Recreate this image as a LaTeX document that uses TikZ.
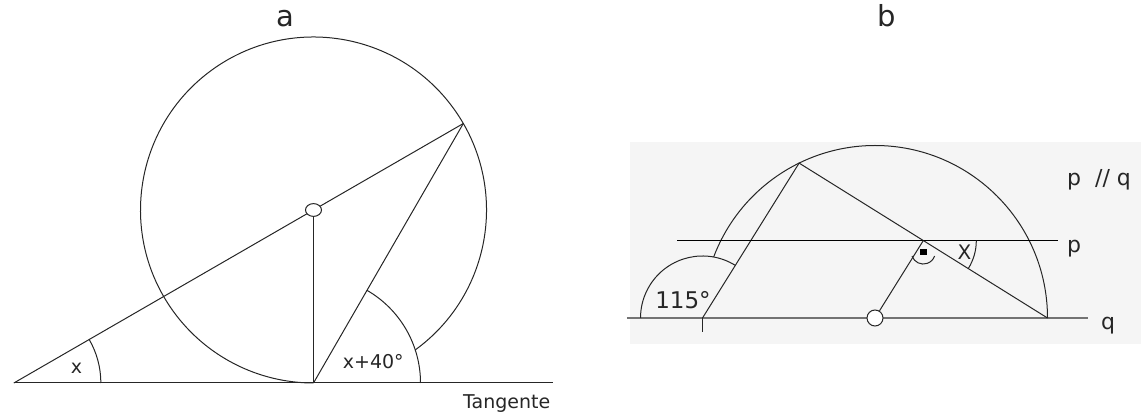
\documentclass[tikz,border=0pt]{standalone}
\usepackage{fontspec}
\newfontfamily\djsans{DejaVu Sans}
\newcommand\myfs[1]{\fontsize{#1}{#1}\selectfont\djsans}
\usetikzlibrary{calc}
\tikzset{
  geo/.style={line width=1pt, draw=black!85},
  pline/.style={line width=1.5pt, draw=black},
  qline/.style={line width=2.2pt, draw=black!55},
  marker/.style={draw=black!85, line width=1pt, fill=white},
  lbl/.style={inner sep=0pt, text=black!85}
}
\begin{document}
\begin{tikzpicture}[x=1pt,y=1pt]
\useasboundingbox (0,0) rectangle (1141,415);
% shaded background of figure b
\fill[black!4] (630,71) rectangle (1141,273.3);

% ---------- figure a ----------
\coordinate (O) at (313.5,205);
\coordinate (T) at (313.5,32);
\coordinate (P) at ($(O)+(30:173)$);
\coordinate (A) at ($(O)+(210:346)$);
\coordinate (E) at (553,32);
\draw[geo] (A) -- (E);
\draw[geo] ($(O)+(-54:173)$) arc[start angle=-54, end angle=270, radius=173];
\draw[geo] (A) -- (P);
\draw[geo] (T) -- (P);
\draw[geo] ($(A)+(87,0)$) arc[start angle=0, end angle=30, radius=87];
\draw[geo] ($(T)+(107,0)$) arc[start angle=0, end angle=60, radius=107];
\draw[marker] (O) ellipse[x radius=8, y radius=6.4];
\coordinate (Ob) at ($(O)+(0,-6.4)$);
\draw[geo] (Ob) -- (T);
\node[lbl, font=\myfs{19}] (lx) at (76.4,46.7) {x};
\node[lbl, font=\myfs{19}] (lx40) at (373.3,53.3) {x+40°};
\node[lbl, font=\myfs{19}, anchor=base west] (ltan) at (463,6.7) {Tangente};
\node[lbl, font=\myfs{29}, anchor=base] (la) at (285,388.3) {a};

% ---------- figure b ----------
\node[lbl, font=\myfs{29}, anchor=base] (lb) at (887,388.3) {b};
\coordinate (O2) at (875,97);
\coordinate (B) at (702.5,97);
\coordinate (C) at (1047.5,97);
\coordinate (V) at ($(O2)+(116.1:172.5)$);
\coordinate (M) at ($(V)!0.5!(C)$);
\coordinate (qL) at (626.8,97);
\coordinate (qR) at (1088,97);
\coordinate (pL) at ($(M)+(-246.3,0)$);
\coordinate (pR) at ($(M)+(135.1,0)$);
\coordinate (Rc) at ($(M)+(0,-11.5)$);

\draw[qline] (qL) -- (qR);
\draw[geo] (C) arc[start angle=0, end angle=159.3, radius=172.5];
\draw[geo] ($(B)+(58:62)$) arc[start angle=58, end angle=180, radius=62];
\draw[geo] (B) -- (V) -- (C);
\draw[geo] (B) -- ++(0,-14);
\draw[pline] (pL) -- (pR);
\node[marker, circle, minimum size=16pt, inner sep=0pt] (O2m) at (O2) {};
\draw[geo] (O2m) -- (M);
\draw[geo] ($(Rc)+(199.5:12)$) arc[start angle=199.5, end angle=340.5, radius=12];
\fill[black] ($(Rc)+(-3.25,-3.25)$) rectangle ++(6.5,6.5);
\draw[geo] ($(M)+(53,0)$) arc[start angle=0, end angle=-32, radius=53];

\node[lbl, font=\myfs{23}] (l115) at (683,115) {115°};
\node[lbl, font=\myfs{20}] (lX) at (964.5,162.5) {X};
\node[lbl, font=\myfs{22}, anchor=base west] (lpq) at (1067,229.7) {p\ \ // q};
\node[lbl, font=\myfs{22}, anchor=base west] (lp) at (1067,162) {p};
\node[lbl, font=\myfs{22}, anchor=base west] (lq) at (1101,85.3) {q};
\end{tikzpicture}
\end{document}
